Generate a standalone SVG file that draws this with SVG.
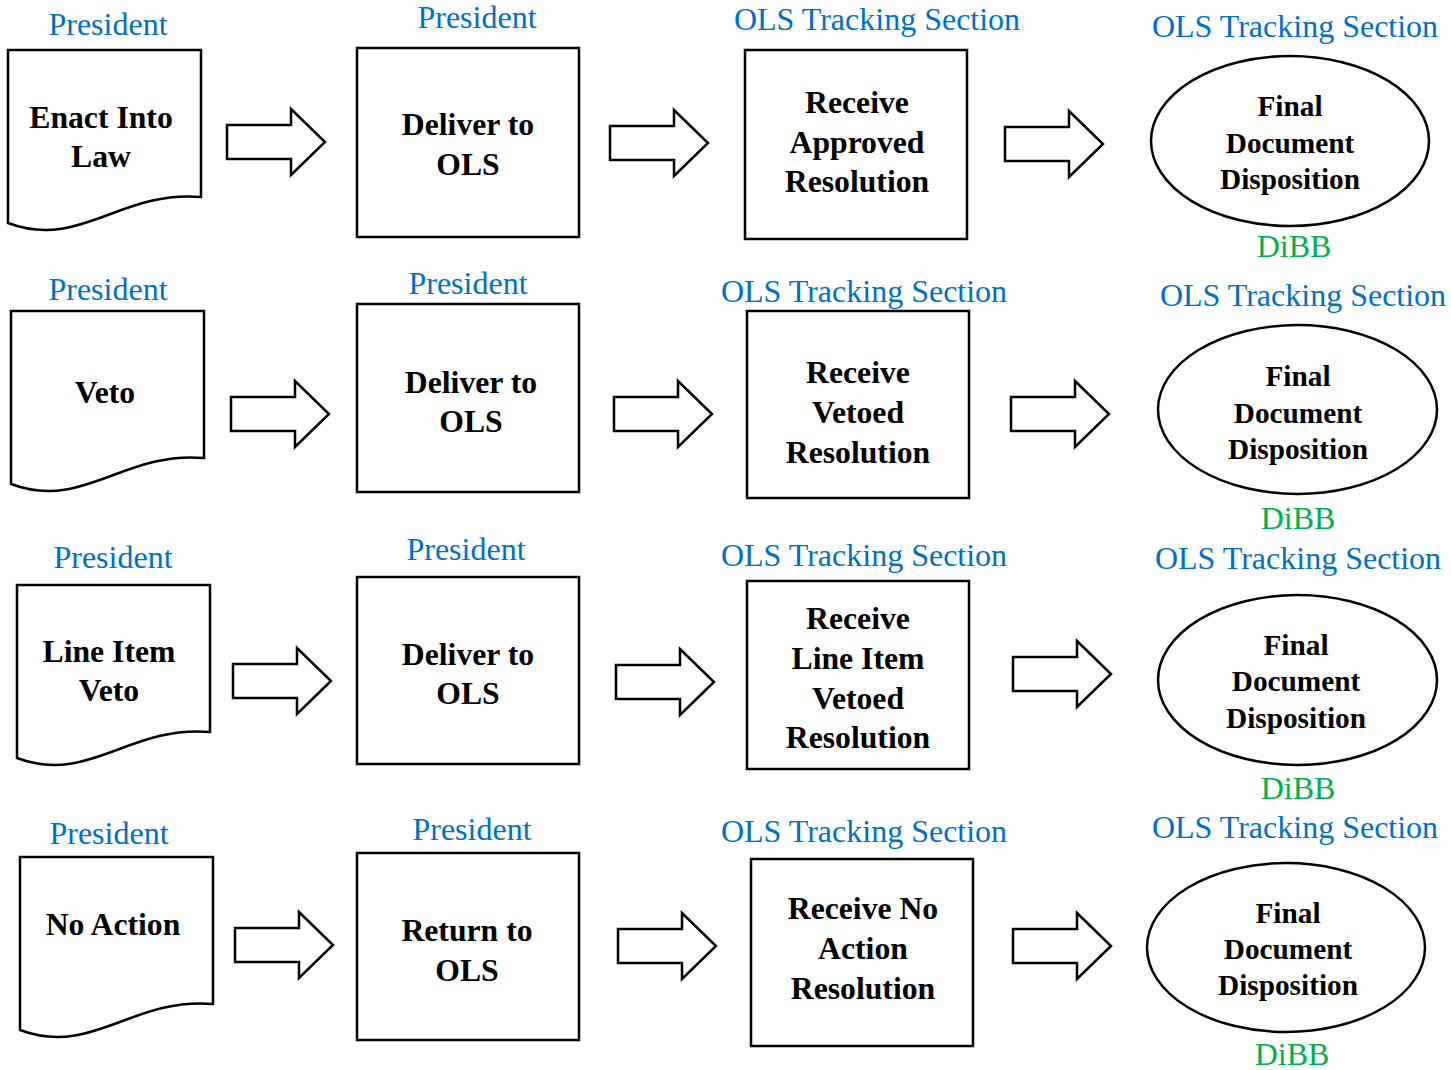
<svg xmlns="http://www.w3.org/2000/svg" width="1451" height="1070" viewBox="0 0 1451 1070">
<defs>
<style>
.s{fill:#fff;stroke:#000;stroke-width:2.5}
.lb{font-family:"Liberation Serif","Times New Roman",serif;font-size:32px;fill:#0070C0;text-anchor:middle}
.g{font-family:"Liberation Serif","Times New Roman",serif;font-size:32px;fill:#00B050;text-anchor:middle}
.t{font-family:"Liberation Serif","Times New Roman",serif;font-size:31.7px;font-weight:bold;fill:#000;text-anchor:middle}
.e{font-family:"Liberation Serif","Times New Roman",serif;font-size:29.3px;font-weight:bold;fill:#000;text-anchor:middle}
</style>
<path id="doc" d="M0,0 H193 V147 C112,140 72,200 0,173 Z"/>
<path id="arr" d="M0,-17 H64 V-33 L98,0 L64,33 V17 H0 Z"/>
</defs>
<rect width="1451" height="1070" fill="#fff"/>

<g id="connectors">
<use href="#arr" class="s" x="227" y="142"/>
<use href="#arr" class="s" x="610" y="143"/>
<use href="#arr" class="s" x="1005" y="144"/>
<use href="#arr" class="s" x="231" y="414"/>
<use href="#arr" class="s" x="614" y="414"/>
<use href="#arr" class="s" x="1011" y="414"/>
<use href="#arr" class="s" x="233" y="681"/>
<use href="#arr" class="s" x="616" y="682"/>
<use href="#arr" class="s" x="1013" y="674"/>
<use href="#arr" class="s" x="235" y="945"/>
<use href="#arr" class="s" x="618" y="946"/>
<use href="#arr" class="s" x="1013" y="946"/>
</g>

<!-- Row 1 -->
<g id="r1-doc">
<text class="lb" x="108" y="35">President</text>
<use href="#doc" class="s" x="8" y="50"/>
<text class="t" x="101" y="128">Enact Into</text>
<text class="t" x="101" y="167">Law</text>
</g>
<g id="r1-deliver">
<text class="lb" x="477" y="28">President</text>
<rect class="s" x="357" y="48" width="222" height="189"/>
<text class="t" x="468" y="135">Deliver to</text>
<text class="t" x="468" y="175">OLS</text>
</g>
<g id="r1-receive">
<text class="lb" x="877" y="30">OLS Tracking Section</text>
<rect class="s" x="745" y="50" width="222" height="189"/>
<text class="t" x="857" y="113">Receive</text>
<text class="t" x="857" y="153">Approved</text>
<text class="t" x="857" y="192">Resolution</text>
</g>
<g id="r1-final">
<text class="lb" x="1295" y="37">OLS Tracking Section</text>
<ellipse class="s" cx="1290" cy="141" rx="139" ry="85"/>
<text class="e" x="1290" y="116">Final</text>
<text class="e" x="1290" y="153">Document</text>
<text class="e" x="1290" y="189">Disposition</text>
<text class="g" x="1294" y="257">DiBB</text>
</g>

<!-- Row 2 -->
<g id="r2-doc">
<text class="lb" x="108" y="300">President</text>
<use href="#doc" class="s" x="11" y="311"/>
<text class="t" x="105" y="403">Veto</text>
</g>
<g id="r2-deliver">
<text class="lb" x="468" y="294">President</text>
<rect class="s" x="357" y="304" width="222" height="188"/>
<text class="t" x="471" y="393">Deliver to</text>
<text class="t" x="471" y="432">OLS</text>
</g>
<g id="r2-receive">
<text class="lb" x="864" y="302">OLS Tracking Section</text>
<rect class="s" x="747" y="311" width="222" height="187"/>
<text class="t" x="858" y="383">Receive</text>
<text class="t" x="858" y="423">Vetoed</text>
<text class="t" x="858" y="463">Resolution</text>
</g>
<g id="r2-final">
<text class="lb" x="1303" y="306">OLS Tracking Section</text>
<ellipse class="s" cx="1297.5" cy="409.5" rx="139.5" ry="84.5"/>
<text class="e" x="1298" y="386">Final</text>
<text class="e" x="1298" y="423">Document</text>
<text class="e" x="1298" y="459">Disposition</text>
<text class="g" x="1298" y="529">DiBB</text>
</g>

<!-- Row 3 -->
<g id="r3-doc">
<text class="lb" x="113" y="568">President</text>
<use href="#doc" class="s" x="17" y="585"/>
<text class="t" x="109" y="662">Line Item</text>
<text class="t" x="109" y="701">Veto</text>
</g>
<g id="r3-deliver">
<text class="lb" x="466" y="560">President</text>
<rect class="s" x="357" y="577" width="222" height="187"/>
<text class="t" x="468" y="665">Deliver to</text>
<text class="t" x="468" y="704">OLS</text>
</g>
<g id="r3-receive">
<text class="lb" x="864" y="566">OLS Tracking Section</text>
<rect class="s" x="747" y="581" width="222" height="188"/>
<text class="t" x="858" y="629">Receive</text>
<text class="t" x="858" y="669">Line Item</text>
<text class="t" x="858" y="709">Vetoed</text>
<text class="t" x="858" y="748">Resolution</text>
</g>
<g id="r3-final">
<text class="lb" x="1298" y="569">OLS Tracking Section</text>
<ellipse class="s" cx="1297.5" cy="680" rx="139.5" ry="85"/>
<text class="e" x="1296" y="655">Final</text>
<text class="e" x="1296" y="691">Document</text>
<text class="e" x="1296" y="728">Disposition</text>
<text class="g" x="1298" y="799">DiBB</text>
</g>

<!-- Row 4 -->
<g id="r4-doc">
<text class="lb" x="109" y="844">President</text>
<use href="#doc" class="s" x="20" y="857"/>
<text class="t" x="113" y="935">No Action</text>
</g>
<g id="r4-return">
<text class="lb" x="472" y="840">President</text>
<rect class="s" x="357" y="853" width="222" height="187"/>
<text class="t" x="467" y="941">Return to</text>
<text class="t" x="467" y="981">OLS</text>
</g>
<g id="r4-receive">
<text class="lb" x="864" y="842">OLS Tracking Section</text>
<rect class="s" x="751" y="859" width="222" height="187"/>
<text class="t" x="863" y="919">Receive No</text>
<text class="t" x="863" y="959">Action</text>
<text class="t" x="863" y="999">Resolution</text>
</g>
<g id="r4-final">
<text class="lb" x="1295" y="838">OLS Tracking Section</text>
<ellipse class="s" cx="1286" cy="947.5" rx="139" ry="84.5"/>
<text class="e" x="1288" y="923">Final</text>
<text class="e" x="1288" y="959">Document</text>
<text class="e" x="1288" y="995">Disposition</text>
<text class="g" x="1292" y="1065">DiBB</text>
</g>
</svg>
